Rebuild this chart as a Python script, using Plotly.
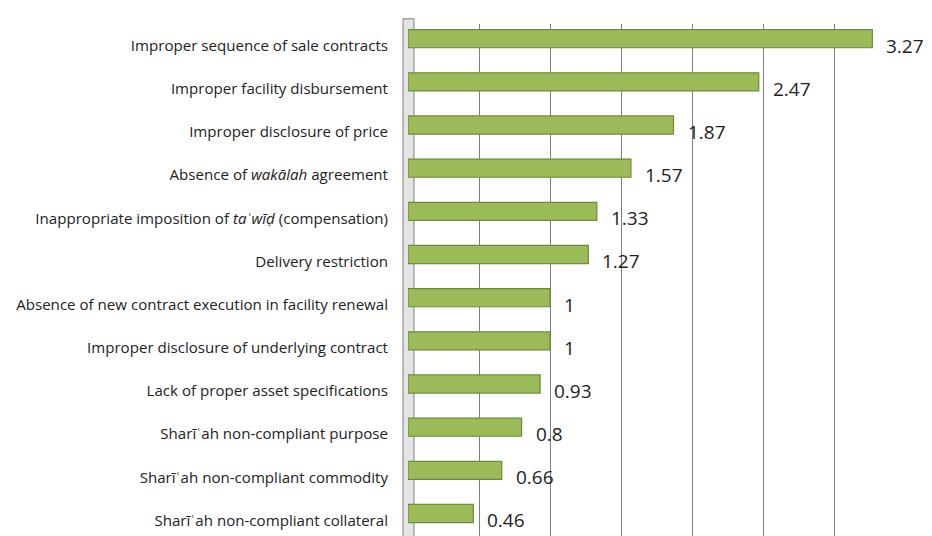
import plotly.graph_objects as go

categories = [
    "Improper sequence of sale contracts",
    "Improper facility disbursement",
    "Improper disclosure of price",
    "Absence of <i>wakālah</i> agreement",
    "Inappropriate imposition of <i>taʿwīḍ</i> (compensation)",
    "Delivery restriction",
    "Absence of new contract execution in facility renewal",
    "Improper disclosure of underlying contract",
    "Lack of proper asset specifications",
    "Sharīʿah non-compliant purpose",
    "Sharīʿah non-compliant commodity",
    "Sharīʿah non-compliant collateral",
]
values = [3.27, 2.47, 1.87, 1.57, 1.33, 1.27, 1, 1, 0.93, 0.8, 0.66, 0.46]
value_labels = ["3.27", "2.47", "1.87", "1.57", "1.33", "1.27", "1", "1", "0.93", "0.8", "0.66", "0.46"]

fig = go.Figure()
fig.add_trace(go.Bar(
    y=categories, x=values, orientation="h",
    marker=dict(color="#9BBB59", line=dict(color="#6E8B3D", width=1.2)),
    width=0.42, offset=-0.37,
    hoverinfo="x+y",
))

for c, v, t in zip(categories, values, value_labels):
    fig.add_annotation(x=v, y=c, text=t, showarrow=False, xanchor="left",
                       xshift=12, yshift=0,
                       font=dict(family="Open Sans", size=19, color="#222222"))

# left 3D wall
fig.add_shape(type="rect", xref="paper", yref="paper", x0=-0.01, x1=0.012, y0=0, y1=1.01,
              fillcolor="#E4E4E4", line=dict(color="#808080", width=1), layer="below")

fig.update_layout(
    width=924, height=536,
    margin=dict(l=400, r=27, t=16, b=2),
    paper_bgcolor="white", plot_bgcolor="white",
    showlegend=False,
    xaxis=dict(range=[0, 3.5], dtick=0.5, showgrid=True, gridcolor="#7F7F7F", gridwidth=1,
               showticklabels=False, zeroline=False, showline=False, ticks="",
               automargin=False),
    yaxis=dict(autorange="reversed", showgrid=False, ticks="", ticklen=0,
               tickfont=dict(family="Open Sans", size=15.1, color="#222222"),
               showline=False, ticklabelstandoff=19, automargin=False),
)

fig.write_html("out.html")
